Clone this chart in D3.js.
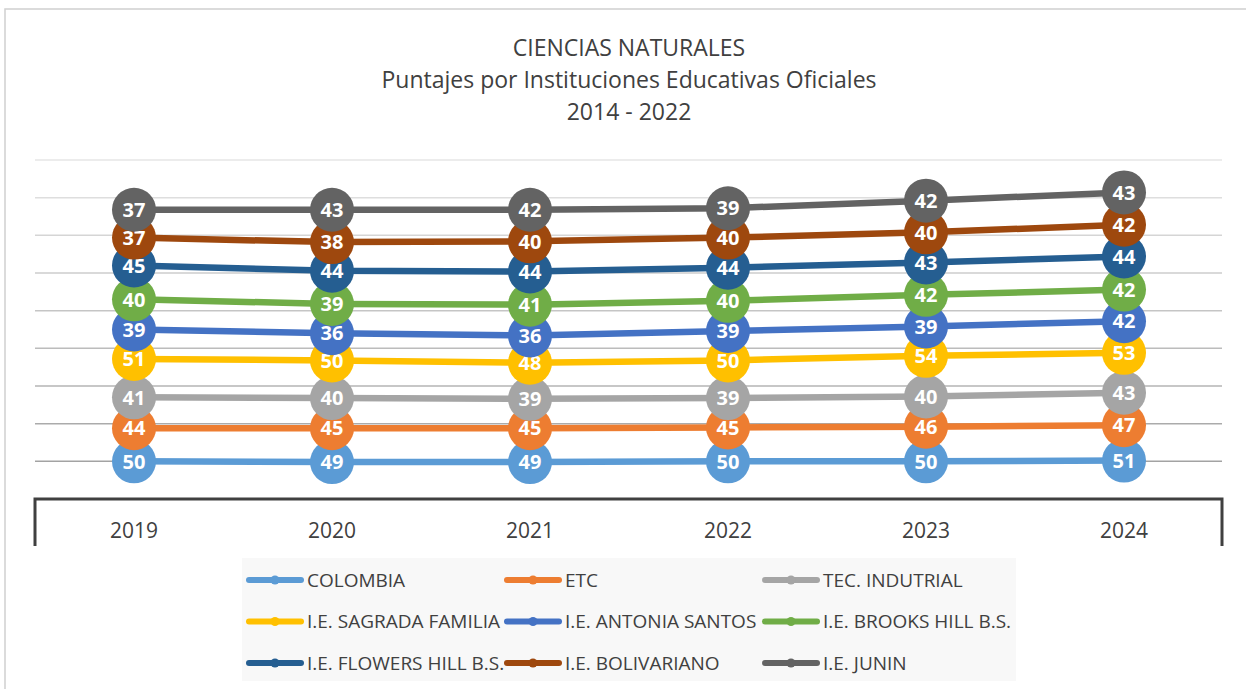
<!DOCTYPE html>
<html>
<head>
<meta charset="utf-8">
<script src="https://cdn.jsdelivr.net/npm/d3@7"></script>
<style>
  body { margin: 0; background: #fff; }
  text { font-family: "Open Sans", Lato, sans-serif; }
</style>
</head>
<body>
<div id="chart"></div>
<script>
var years = ["2019", "2020", "2021", "2022", "2023", "2024"];
var seriesNames = ["COLOMBIA", "ETC", "TEC. INDUTRIAL", "I.E. SAGRADA FAMILIA", "I.E. ANTONIA SANTOS",
  "I.E. BROOKS HILL B.S.", "I.E. FLOWERS HILL B.S.", "I.E. BOLIVARIANO", "I.E. JUNIN"];
var colombia    = [50, 49, 49, 50, 50, 51];
var etc         = [44, 45, 45, 45, 46, 47];
var tecIndus    = [41, 40, 39, 39, 40, 43];
var sagrada     = [51, 50, 48, 50, 54, 53];
var antonia     = [39, 36, 36, 39, 39, 42];
var brooks      = [40, 39, 41, 40, 42, 42];
var flowers     = [45, 44, 44, 44, 43, 44];
var bolivariano = [37, 38, 40, 40, 40, 42];
var junin       = [37, 43, 42, 39, 42, 43];
var colors = ["#5b9bd5", "#ed7d31", "#a5a5a5", "#ffc000", "#4472c4", "#70ad47", "#255e91", "#9e480e", "#636363"];
var titleLines = ["CIENCIAS NATURALES", "Puntajes por Instituciones Educativas Oficiales", "2014 - 2022"];

var allValues = [colombia, etc, tecIndus, sagrada, antonia, brooks, flowers, bolivariano, junin];

var W = 1246, H = 689;
var svg = d3.select("#chart").append("svg").attr("width", W).attr("height", H);

// outer border of the chart
svg.append("rect").attr("x", 5).attr("y", 9).attr("width", 1280).attr("height", 720)
  .attr("fill", "none").attr("stroke", "#d0d0d0").attr("stroke-width", 1.5);

// title
svg.append("g").selectAll("text").data(titleLines).enter().append("text")
  .attr("x", 629).attr("y", function(d, i){ return 56 + i * 32; })
  .attr("text-anchor", "middle").attr("font-size", 23).attr("fill", "#404040")
  .text(function(d){ return d; });

var x = d3.scaleBand().domain(years).range([35, 1223]).padding(0);
var y = d3.scaleLinear().domain([0, 450]).range([499, 160]);
function cx(d){ return x(d) + x.bandwidth() / 2; }

// gridlines (lighter towards the top)
var gridVals = d3.range(50, 451, 50);
var gridCol = d3.scaleLinear().domain([50, 450]).range(["#a3a3a3", "#e6e6e6"]);
svg.append("g").selectAll("line").data(gridVals).enter().append("line")
  .attr("x1", 35).attr("x2", 1222)
  .attr("y1", function(d){ return y(d); }).attr("y2", function(d){ return y(d); })
  .attr("stroke", function(d){ return gridCol(d); }).attr("stroke-width", 1.5);

// stacked series
var stacked = [];
var base = years.map(function(){ return 0; });
allValues.forEach(function(vals, s){
  var pts = vals.map(function(v, i){
    base[i] += v;
    return { year: years[i], value: v, total: base[i] };
  });
  stacked.push(pts);
});

var line = d3.line().x(function(d){ return cx(d.year); }).y(function(d){ return y(d.total); });

stacked.forEach(function(pts, s){
  var g = svg.append("g");
  g.append("path").datum(pts).attr("d", line)
    .attr("fill", "none").attr("stroke", colors[s]).attr("stroke-width", 6.5)
    .attr("stroke-linejoin", "round");
  var m = g.selectAll(".pt").data(pts).enter().append("g")
    .attr("transform", function(d){ return "translate(" + cx(d.year) + "," + y(d.total) + ")"; });
  m.append("circle").attr("r", 22).attr("fill", colors[s]);
  m.append("text").attr("text-anchor", "middle").attr("dy", "0.36em")
    .attr("font-size", 20).attr("font-weight", "bold").attr("fill", "#fff")
    .text(function(d){ return d.value; });
});

// category axis
svg.append("path")
  .attr("d", "M35,546V499H1222V546")
  .attr("fill", "none").attr("stroke", "#404040").attr("stroke-width", 3);
svg.append("g").selectAll("text").data(years).enter().append("text")
  .attr("x", cx).attr("y", 538).attr("text-anchor", "middle")
  .attr("font-size", 21).attr("fill", "#404040").text(function(d){ return d; });

// legend
var leg = svg.append("g");
leg.append("rect").attr("x", 242).attr("y", 558).attr("width", 774).attr("height", 123).attr("fill", "#f8f8f8");
var items = leg.selectAll(".item").data(seriesNames).enter().append("g")
  .attr("transform", function(d, i){ return "translate(" + (247 + (i % 3) * 258) + "," + (580 + Math.floor(i / 3) * 41.5) + ")"; });
items.append("line").attr("x1", 2).attr("x2", 54).attr("y1", 0).attr("y2", 0)
  .attr("stroke", function(d, i){ return colors[i]; }).attr("stroke-width", 6).attr("stroke-linecap", "round");
items.append("circle").attr("cx", 28).attr("r", 4.5).attr("fill", function(d, i){ return colors[i]; });
items.append("text").attr("x", 60).attr("dy", "0.36em").attr("font-size", 19).attr("fill", "#404040")
  .text(function(d){ return d; });
</script>
</body>
</html>
